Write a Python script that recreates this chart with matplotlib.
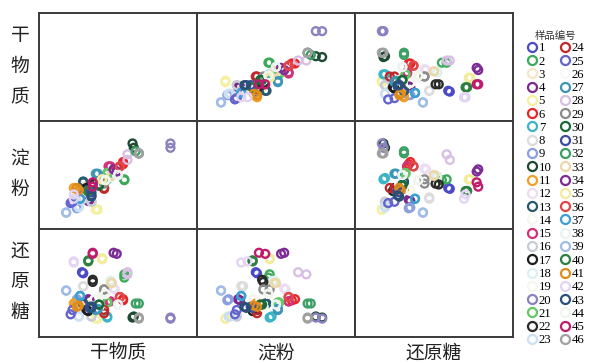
import matplotlib
matplotlib.use("Agg")
import matplotlib.pyplot as plt
from matplotlib.lines import Line2D

plt.rcParams['font.family'] = ['Noto Sans CJK SC', 'DejaVu Sans']

# Sample numbers and their marker colours
samples = list(range(1, 47))
colors = [
    '#4b4bc8', '#3caa5a', '#f8e4c8', '#7a2a8c', '#f4f0a0', '#e8262a', '#3cb4c8', '#dcdcdc',
    '#8ca0e0', '#1e4a32', '#f0a028', '#ecdcf4', '#285a6e', '#f4f8f0', '#d2327c', '#c8ccd8',
    '#1e1e1e', '#dcf0f0', '#f6f6ee', '#8c82c0', '#64c864', '#2a2a2a', '#cce0f4', '#c0282a',
    '#6464cc', '#f8f8f8', '#3c96b4', '#d8c0e4', '#8c8c8c', '#1a6a3a', '#3c4ca0', '#3ca064',
    '#ecd8a8', '#7c2c94', '#f4ec9c', '#e04848', '#3ca0d4', '#eaf2f2', '#a0bce8', '#2e8040',
    '#e08c1c', '#e4d4f4', '#2a5078', '#f0f6ee', '#c01c6e', '#a0a0a0',
]

# Dry matter (%), two replicates per sample
dry_matter_r1 = [26.8, 33.5, 27.5, 27.8, 29.0, 33.3, 30.8, 27.0, 26.0, 34.8, 25.5, 31.8,
                 27.0, 30.0, 31.0, 28.3, 27.5, 31.3, 28.8, 40.8, 30.8, 28.5, 26.3, 30.3,
                 25.0, 29.5, 29.0, 34.0, 30.3, 29.5, 28.0, 35.3, 31.5, 31.8, 30.0, 32.8,
                 26.5, 32.5, 24.3, 27.8, 26.0, 25.5, 28.3, 30.5, 28.5, 35.8]
dry_matter_r2 = [27.0, 33.5, 27.8, 28.0, 29.3, 33.3, 30.8, 27.0, 26.0, 35.0, 25.8, 32.0,
                 27.0, 30.0, 31.3, 28.3, 27.8, 31.3, 28.8, 40.8, 30.8, 28.5, 26.3, 30.3,
                 25.3, 29.5, 29.3, 34.0, 30.3, 29.5, 28.3, 35.8, 31.5, 32.3, 30.0, 32.8,
                 26.5, 32.5, 24.3, 27.8, 26.3, 25.5, 28.3, 30.5, 28.5, 35.8]

# Starch (%), two replicates per sample
starch_r1 = [19.3, 21.5, 20.0, 16.5, 14.5, 25.5, 21.5, 17.0, 14.8, 29.8, 19.5, 23.8,
             21.0, 21.3, 24.5, 16.3, 19.5, 22.0, 18.8, 29.8, 23.0, 20.3, 15.0, 19.3,
             16.0, 20.5, 22.8, 27.3, 20.5, 20.3, 18.8, 28.0, 22.3, 23.8, 21.5, 24.5,
             17.0, 22.5, 13.8, 18.8, 19.5, 17.0, 17.5, 21.3, 19.8, 27.5]
starch_r2 = [19.5, 21.3, 20.3, 16.8, 14.5, 25.0, 21.8, 17.3, 15.0, 28.8, 19.3, 24.0,
             20.8, 21.3, 24.5, 16.3, 18.8, 22.3, 19.0, 28.8, 22.8, 20.5, 15.3, 19.5,
             16.3, 20.5, 22.8, 26.0, 21.5, 20.0, 18.5, 27.5, 22.5, 23.3, 21.5, 24.5,
             17.0, 22.5, 13.8, 18.8, 19.0, 18.0, 17.8, 21.3, 20.8, 27.5]

# Reducing sugar (%), two replicates per sample
sugar_r1 = [3.00, 2.90, 1.50, 1.75, 0.85, 1.75, 0.90, 2.35, 1.70, 0.90, 1.55, 2.25,
            1.55, 2.00, 1.65, 0.95, 1.25, 2.60, 1.75, 0.85, 1.60, 2.65, 0.95, 1.25,
            1.05, 1.40, 1.25, 2.90, 2.20, 1.50, 1.35, 1.55, 2.50, 3.90, 3.60, 1.85,
            1.90, 1.50, 2.15, 3.50, 1.40, 3.45, 1.40, 2.00, 3.90, 0.90]
sugar_r2 = [2.95, 2.75, 1.45, 1.70, 0.85, 1.70, 0.95, 2.35, 1.75, 0.95, 1.55, 2.20,
            1.55, 2.00, 1.65, 0.95, 1.20, 2.60, 1.75, 0.90, 1.60, 2.55, 0.95, 1.10,
            1.25, 1.40, 1.30, 3.00, 2.20, 1.50, 1.40, 1.55, 2.50, 3.85, 3.65, 1.85,
            1.90, 1.50, 2.15, 3.55, 1.45, 3.50, 1.35, 2.00, 3.85, 0.85]

var_names = ['干物质', '淀粉', '还原糖']
var_r1 = [dry_matter_r1, starch_r1, sugar_r1]
var_r2 = [dry_matter_r2, starch_r2, sugar_r2]
var_lims = [(20, 45), (10, 35), (0, 5)]

W, H = 592, 363
fig = plt.figure(figsize=(W / 100, H / 100), dpi=100)
gs = fig.add_gridspec(3, 3, left=39 / W, right=513 / W, bottom=1 - 337 / H, top=1 - 13 / H,
                      wspace=0, hspace=0)

for i in range(3):          # row variable on y
    for j in range(3):      # column variable on x
        ax = fig.add_subplot(gs[i, j])
        ax.set_xlim(var_lims[j])
        ax.set_ylim(var_lims[i])
        ax.set_xticks([])
        ax.set_yticks([])
        for sp in ax.spines.values():
            sp.set_linewidth(1.4)
            sp.set_color('#3a3a3a')
        if i == j:
            continue
        for k in range(len(samples)):
            ax.scatter([var_r1[j][k], var_r2[j][k]], [var_r1[i][k], var_r2[i][k]],
                       s=32, facecolors='none', edgecolors=colors[k], linewidths=1.7)

# Variable names: stacked on the left, horizontal below
row_centres = [66, 174, 282]
for name, yc in zip(var_names, row_centres):
    fig.text(20 / W, 1 - yc / H, '\n'.join(name), ha='center', va='center',
             fontsize=13.5, linespacing=1.6, color='#222222')
col_centres = [118, 276, 434]
for name, xc in zip(var_names, col_centres):
    fig.text(xc / W, 1 - 353 / H, name, ha='center', va='center', fontsize=13.5,
             color='#222222')

# Legend of sample numbers, two columns
handles = [Line2D([], [], linestyle='none', marker='o', markersize=6.5,
                  markerfacecolor='none', markeredgecolor=c, markeredgewidth=1.6)
           for c in colors]
leg = fig.legend(handles, [str(s) for s in samples], ncol=2, loc='upper left',
                 bbox_to_anchor=(517 / W, 1 - 22 / H), frameon=False,
                 handlelength=0.9, handletextpad=0.1, columnspacing=0.55,
                 labelspacing=0.1, borderpad=0.2,
                 prop={'family': 'Liberation Serif', 'size': 9.2},
                 title='样品编号', title_fontproperties={'family': 'Noto Sans CJK SC', 'size': 7.5})
leg.get_title().set_color('#333333')

fig.savefig('out.png', dpi=100)
